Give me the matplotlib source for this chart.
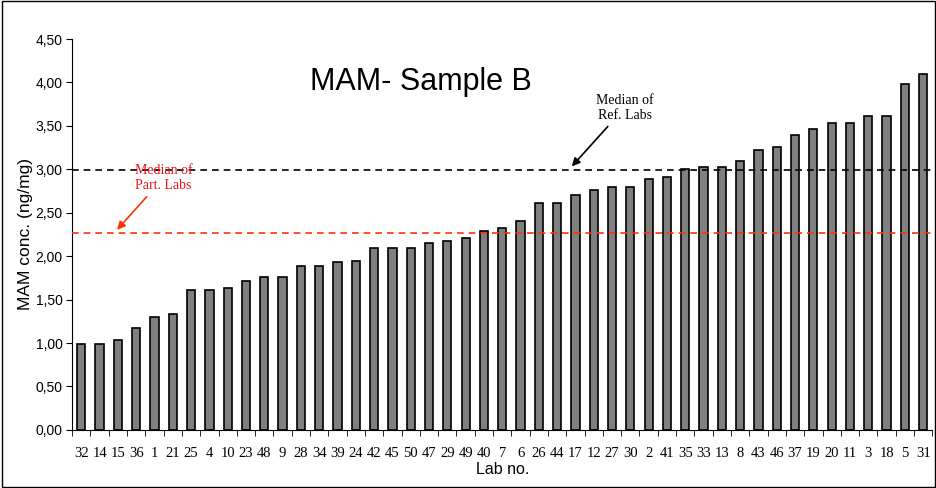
import matplotlib.pyplot as plt
import numpy as np

labs = ["32", "14", "15", "36", "1", "21", "25", "4", "10", "23", "48", "9", "28", "34",
        "39", "24", "42", "45", "50", "47", "29", "49", "40", "7", "6", "26", "44", "17",
        "12", "27", "30", "2", "41", "35", "33", "13", "8", "43", "46", "37", "19", "20",
        "11", "3", "18", "5", "31"]
conc = [0.99, 0.99, 1.04, 1.17, 1.30, 1.33, 1.61, 1.61, 1.63, 1.72, 1.76, 1.76, 1.89, 1.89,
        1.93, 1.95, 2.10, 2.10, 2.10, 2.15, 2.17, 2.21, 2.29, 2.33, 2.40, 2.61, 2.61, 2.70,
        2.76, 2.80, 2.80, 2.89, 2.91, 3.00, 3.03, 3.03, 3.10, 3.22, 3.26, 3.40, 3.46, 3.53,
        3.53, 3.61, 3.61, 3.98, 4.10]
median_ref = 2.99
median_part = 2.27
yticks = [0, 0.5, 1.0, 1.5, 2.0, 2.5, 3.0, 3.5, 4.0, 4.5]

fig = plt.figure(figsize=(9.37, 4.88), dpi=100)
ax = fig.add_axes([0.077, 0.119, 0.918, 0.801])

x = np.arange(len(labs))
ax.bar(x, conc, width=0.45, color="#808080", edgecolor="black", linewidth=1.2, zorder=2)

ax.axhline(median_ref, color="black", linestyle=(0, (4, 3)), linewidth=1.2, zorder=3)
ax.axhline(median_part, color="#ff3300", linestyle=(0, (4, 3)), linewidth=1.2, zorder=3)

ax.set_xlim(-0.5, len(labs) - 0.5)
ax.set_ylim(0, 4.5)
ax.set_yticks(yticks)
ax.set_yticklabels([f"{v:.2f}".replace(".", ",") for v in yticks], fontsize=10,
                   family="Liberation Sans")
ax.set_xticks(x)
ax.set_xticklabels(labs, fontsize=10.5, family="Liberation Serif")
ax.tick_params(axis="x", length=0, pad=12)
ax.set_xticks(np.arange(-0.5, len(labs), 1), minor=True)
ax.tick_params(axis="x", which="minor", length=4, direction="out")
ax.tick_params(axis="y", length=4, direction="out", pad=3)

for s in ["top", "right"]:
    ax.spines[s].set_visible(False)

ax.set_xlabel("Lab no.", fontsize=11.5, family="Liberation Sans", labelpad=2)
ax.set_ylabel("MAM conc. (ng/mg)", fontsize=12.5, family="Liberation Sans", labelpad=2)

ax.text(0.405, 0.89, "MAM- Sample B", transform=ax.transAxes, ha="center", va="center",
        fontsize=22, family="Liberation Sans")

ax.annotate("Median of\nRef. Labs", xy=(26.7, median_ref + 0.02), xytext=(29.7, 3.55),
            ha="center", va="bottom", fontsize=10, family="Liberation Serif",
            arrowprops=dict(arrowstyle="-|>", color="black", lw=1.2, shrinkA=2,
                            mutation_scale=12), color="black")
ax.annotate("Median of\nPart. Labs", xy=(1.85, median_part + 0.01), xytext=(4.5, 2.74),
            ha="center", va="bottom", fontsize=10, family="Liberation Serif",
            arrowprops=dict(arrowstyle="-|>", color="#ff3300", lw=1.2, shrinkA=2,
                            mutation_scale=12), color="#e8141c")

fig.patches.append(plt.Rectangle((0.002, 0.003), 0.996, 0.994, transform=fig.transFigure,
                                 fill=False, edgecolor="black", linewidth=1.0))

fig.savefig("out.png", dpi=100)
